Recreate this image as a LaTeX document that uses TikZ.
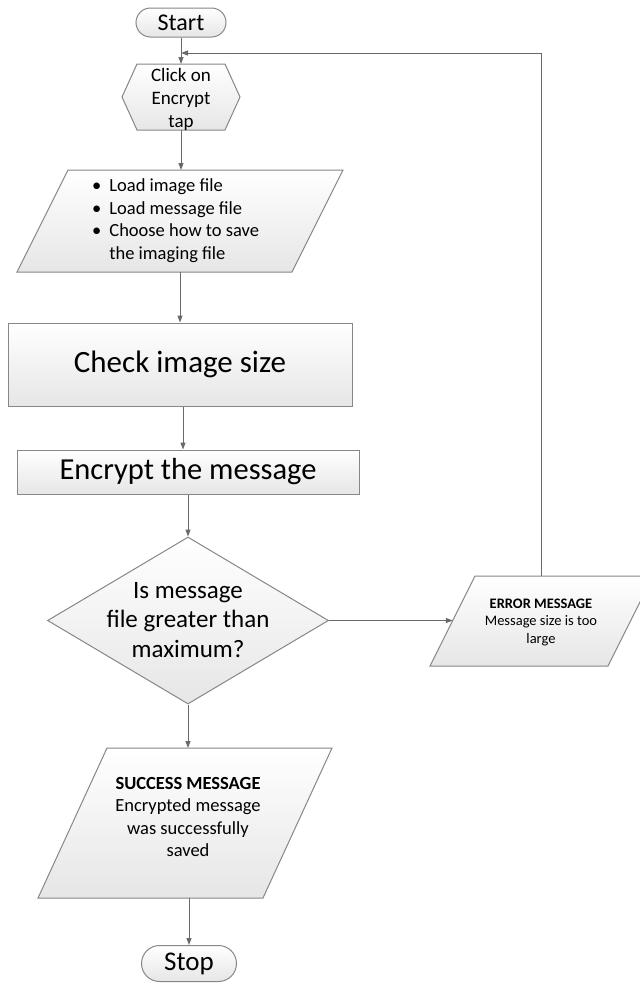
\documentclass[tikz,border=0pt]{standalone}
\usepackage{fontspec}
\setmainfont{Carlito}
\usetikzlibrary{arrows.meta,shapes.geometric}
\definecolor{edgecol}{RGB}{135,135,135}
\definecolor{conncol}{RGB}{105,105,105}
\definecolor{shadebot}{RGB}{230,230,230}
\newcommand{\fsz}[2]{\fontsize{#1}{#2}\selectfont}
\tikzset{
  shapefill/.style={draw=edgecol, line width=1pt, top color=white, bottom color=shadebot},
  boxnode/.style={shapefill, rectangle, inner sep=0pt},
  pill/.style={shapefill, rectangle, rounded corners=#1, inner sep=0pt},
  txt/.style={align=center, inner sep=0pt},
  arr/.style={draw=conncol, line width=1pt, -{Triangle[length=7pt,width=5pt]}},
}
\begin{document}
\begin{tikzpicture}[x=1pt,y=-1pt]
\useasboundingbox (0,0) rectangle (640,983);
\fill[white] (0,0) rectangle (640,983);
\clip (0,0) rectangle (640,983);

% Start
\node[pill=14.5pt, minimum width=90pt, minimum height=29pt, font=\fsz{24}{29}] (start) at (181,22.5) {Start};

% Hexagon
\path[shapefill] (122,97) -- (137,64) -- (225,64) -- (240,97) -- (225,130) -- (137,130) -- cycle;
\node[txt, font=\fsz{19}{23}] (hex) at (181,99) {Click on\\Encrypt\\tap};
\coordinate (hexN) at (181,64);
\coordinate (hexS) at (181,130);
\coordinate (loopjoin) at (181,53);

% Load parallelogram
\path[shapefill] (68,170) -- (343,170) -- (292,272) -- (17,272) -- cycle;
\node[inner sep=0pt, anchor=west, font=\fsz{18.5}{22.6}] (load) at (92,221)
  {\begin{tabular}{@{}l@{\hspace{8pt}}l@{}}
   \textbullet & Load image file\\
   \textbullet & Load message file\\
   \textbullet & Choose how to save\\
               & the imaging file
   \end{tabular}};
\coordinate (loadN) at (181,170);
\coordinate (loadS) at (180,272);

% Check image size
\node[boxnode, minimum width=344pt, minimum height=83pt, font=\fsz{31}{37}] (check) at (180,364.5) {Check image size};

% Encrypt the message
\node[boxnode, minimum width=342pt, minimum height=44pt, font=\fsz{30.5}{36}] (enc) at (188,472) {Encrypt the message};

% Decision
\node[shapefill, diamond, minimum width=281pt, minimum height=167pt, inner sep=0pt] (dia) at (188,620.5) {};
\node[txt, font=\fsz{25}{29.5}] (diatext) at (188,620) {Is message\\file greater than\\maximum?};

% Error message
\path[shapefill] (475,576) -- (653,576) -- (608,666) -- (430,666) -- cycle;
\node[txt, font=\fsz{14.5}{17.5}] (err) at (541,622) {\textbf{ERROR MESSAGE}\\Message size is too\\large};
\coordinate (errW) at (452.8,620.5);
\coordinate (errN) at (541,576);

% Success message
\path[shapefill] (107,748) -- (332,748) -- (263,898) -- (38,898) -- cycle;
\node[txt, font=\fsz{18.5}{22.4}] (succ) at (188,817) {\textbf{SUCCESS MESSAGE}\\Encrypted message\\was successfully\\saved};
\coordinate (succN) at (188,748);
\coordinate (succS) at (189,898);

% Stop
\node[pill=18pt, minimum width=95pt, minimum height=36pt, font=\fsz{27}{32}] (stop) at (189,963.5) {Stop};

% Connectors
\draw[arr] (start.south) -- (hexN);
\draw[arr] (hexS) -- (loadN);
\draw[arr] (loadS) -- (check.north);
\draw[arr] ([xshift=3pt]check.south) -- ([xshift=-5pt]enc.north);
\draw[arr] (enc.south) -- (dia.north);
\draw[arr] (dia.east) -- (errW);
\draw[arr] (dia.south) -- (succN);
\draw[arr] (succS) -- (stop.north);
\draw[arr] (errN) -- (errN |- loopjoin) -- (loopjoin);
\end{tikzpicture}
\end{document}
